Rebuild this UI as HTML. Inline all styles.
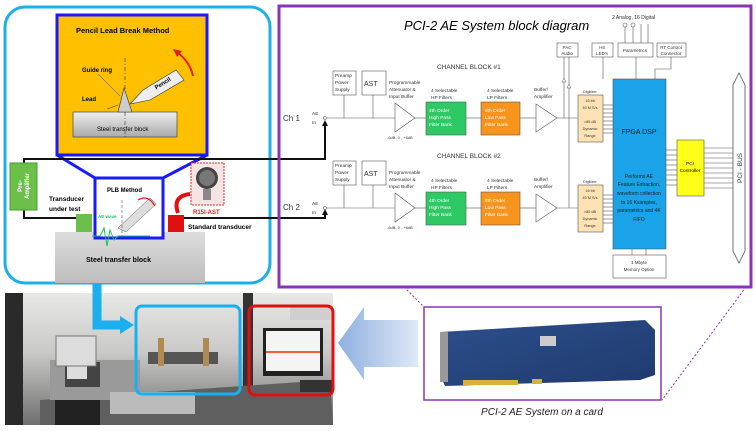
<!DOCTYPE html>
<html><head><meta charset="utf-8"><style>
html,body{margin:0;padding:0;background:#fff;width:756px;height:431px;overflow:hidden}
svg{display:block;font-family:"Liberation Sans",Arial,sans-serif}
</style></head><body>
<svg width="756" height="431" viewBox="0 0 756 431" xmlns="http://www.w3.org/2000/svg">
<defs>
<linearGradient id="steel" x1="0" y1="0" x2="0" y2="1"><stop offset="0" stop-color="#eee"/><stop offset="1" stop-color="#aaa"/></linearGradient>
<linearGradient id="steel2" x1="0" y1="0" x2="0" y2="1"><stop offset="0" stop-color="#ddd"/><stop offset="1" stop-color="#bdbdbd"/></linearGradient>
<linearGradient id="bigArrow" x1="1" y1="0" x2="0" y2="0"><stop offset="0" stop-color="#dfe9f7"/><stop offset="1" stop-color="#8fb0e0"/></linearGradient>
<linearGradient id="photo" x1="0" y1="0" x2="0" y2="1"><stop offset="0" stop-color="#e8e8e6"/><stop offset="0.45" stop-color="#c9c9c7"/><stop offset="1" stop-color="#6f6f6f"/></linearGradient>
<linearGradient id="pcb" x1="0" y1="0" x2="1" y2="1"><stop offset="0" stop-color="#2d4f8c"/><stop offset="1" stop-color="#1f3a6e"/></linearGradient>
</defs>

<!-- Left panel -->
<rect x="5" y="7" width="265" height="276" rx="20" fill="#fff" stroke="#1cb0e8" stroke-width="3"/>
<rect x="57" y="15" width="150" height="140" fill="#ffc000" stroke="#1a1aff" stroke-width="3"/>
<text x="76" y="33" font-size="7.5" font-weight="bold">Pencil Lead Break Method</text>
<rect x="73" y="112" width="104" height="25" fill="url(#steel)" stroke="#555" stroke-width="0.8"/>
<text x="97" y="131" font-size="6">Steel transfer block</text>
<line x1="125" y1="58" x2="125" y2="138" stroke="#333" stroke-width="0.6" stroke-dasharray="4,2,1,2"/>
<polygon points="118,112 124,88 132,112" fill="#ccc" stroke="#333" stroke-width="0.6"/>
<polygon points="130,104 143,90 176,70 184,80 150,100" fill="#eee" stroke="#333" stroke-width="0.6"/>
<text x="154" y="88" font-size="6" font-weight="bold" transform="rotate(-32 158 85)">Pencil</text>
<path d="M177 52 Q190 62 193 76" fill="none" stroke="#e02020" stroke-width="2"/>
<polygon points="173,49 182,51 177,57" fill="#e02020"/>
<text x="82" y="72" font-size="6" font-weight="bold">Guide ring</text>
<line x1="98" y1="74" x2="120" y2="96" stroke="#333" stroke-width="0.5"/>
<text x="82" y="101" font-size="6" font-weight="bold">Lead</text>
<line x1="107" y1="109" x2="118" y2="105" stroke="#333" stroke-width="0.5"/>
<polyline points="57,155 95,178 163,178 207,155" fill="none" stroke="#1a1aff" stroke-width="3"/>
<rect x="55" y="232" width="150" height="51" fill="url(#steel2)"/>
<text x="86" y="262" font-size="7" font-weight="bold">Steel transfer block</text>
<rect x="95" y="178" width="68" height="60" fill="#fff" stroke="#1a1aff" stroke-width="3"/>
<text x="107" y="192" font-size="6" font-weight="bold">PLB Method</text>
<polygon points="118,228 150,198 156,204 126,232" fill="#ddd" stroke="#555" stroke-width="0.5"/>
<path d="M138 200 Q148 194 155 206" fill="none" stroke="#e02020" stroke-width="1.2"/>
<line x1="122" y1="200" x2="122" y2="240" stroke="#333" stroke-width="0.5" stroke-dasharray="3,2"/>
<polyline points="92,236 100,236 104,228 107,246 110,230 114,240 118,236 150,236" fill="none" stroke="#19c060" stroke-width="1"/>
<text x="98" y="218" font-size="4.5" fill="#19c060" font-weight="bold">AE wave</text>
<!-- wires -->
<polyline points="24,163 24,159 325,159 325,125" fill="none" stroke="#111" stroke-width="2"/>
<polygon points="322,126 325,120 328,126" fill="#111"/>
<polyline points="24,210 24,218 76,218" fill="none" stroke="#111" stroke-width="2"/>
<polyline points="183,218 325,218 325,214" fill="none" stroke="#111" stroke-width="2"/>
<polygon points="322,215 325,209 328,215" fill="#111"/>
<rect x="10" y="163" width="27" height="47" fill="#6cc04a" stroke="#4a9a30"/>
<text x="24" y="186" font-size="6" font-weight="bold" fill="#fff" text-anchor="middle" transform="rotate(-90 24 186)"><tspan x="24" dy="-2">Pre-</tspan><tspan x="24" dy="7">Amplifier</tspan></text>
<rect x="76" y="214" width="16" height="18" fill="#6cc04a"/>
<text x="49" y="201" font-size="6.5" font-weight="bold">Transducer</text>
<text x="49" y="211" font-size="6.5" font-weight="bold">under test</text>
<rect x="168" y="215" width="16" height="17" fill="#e01010"/>
<text x="188" y="229" font-size="6.5" font-weight="bold">Standard transducer</text>
<rect x="191" y="163" width="33" height="42" fill="#f4e4e4" stroke="#e03030" stroke-dasharray="2,1"/>
<circle cx="207" cy="178" r="11" fill="#444"/><circle cx="207" cy="178" r="8" fill="#777"/>
<rect x="203" y="189" width="8" height="11" fill="#888"/>
<text x="193" y="214" font-size="6" font-weight="bold" fill="#e02020">R15I-AST</text>
<path d="M190 194 Q172 196 178 213" fill="none" stroke="#e01010" stroke-width="4"/>

<!-- Right panel -->
<rect x="279" y="6" width="472" height="281" fill="none" stroke="#8a34b8" stroke-width="3"/>
<text x="404" y="30" font-size="13" font-style="italic">PCI-2 AE System block diagram</text>
<g font-size="5" fill="#333">
<text x="612" y="19">2 Analog, 16 Digital</text>
<text x="437" y="69" font-size="6.5">CHANNEL BLOCK #1</text>
<text x="437" y="158" font-size="6.5">CHANNEL BLOCK #2</text>
<text x="283" y="121" font-size="8">Ch 1</text>
<text x="283" y="210" font-size="8">Ch 2</text>
</g>
<g fill="none" stroke="#555" stroke-width="0.6">
<circle cx="625" cy="25" r="2"/><circle cx="633" cy="25" r="2"/>
<line x1="625" y1="27" x2="625" y2="43"/><line x1="633" y1="27" x2="633" y2="43"/>
<line x1="641" y1="24" x2="641" y2="43"/><line x1="648" y1="24" x2="648" y2="43"/>
<rect x="557" y="43" width="21" height="14"/>
<rect x="592" y="43" width="21" height="14"/>
<rect x="618" y="43" width="35" height="14"/>
<rect x="657" y="43" width="29" height="14"/>
<line x1="603" y1="57" x2="603" y2="79"/><line x1="636" y1="57" x2="636" y2="79"/><polyline points="671,57 671,69 655,69 655,79"/>
<line x1="564" y1="57" x2="564" y2="118"/>
<line x1="569" y1="57" x2="569" y2="208"/>
<rect x="613" y="255" width="53" height="23"/>
<line x1="632" y1="249" x2="632" y2="255"/><line x1="646" y1="249" x2="646" y2="255"/>
<polygon points="739,73 745,85 745,251 739,263 733,251 733,85" stroke-width="0.8"/>
</g>
<g font-size="4.5" fill="#333" text-anchor="middle">
<text x="567" y="49">PAC</text><text x="567" y="55">Audio</text>
<text x="602" y="49">Hit</text><text x="602" y="55">LED's</text>
<text x="635" y="52">Parametrics</text>
<text x="671" y="49">RT Control</text><text x="671" y="55">Connector</text>
<text x="639" y="264">1 Mbyte</text><text x="639" y="271">Memory Option</text>
</g>
<text x="742" y="168" font-size="6.5" fill="#333" text-anchor="middle" transform="rotate(-90 742 168)">PCI - BUS</text>

<g id="ch">
<g fill="none" stroke="#555" stroke-width="0.6">
<circle cx="325" cy="118" r="1.5"/>
<line x1="327" y1="118" x2="395" y2="118"/>
<rect x="333" y="71" width="23" height="24"/><rect x="362" y="71" width="24" height="24"/>
<line x1="344" y1="95" x2="344" y2="118"/><line x1="373" y1="95" x2="373" y2="118"/>
<polygon points="395,103 415,118 395,132"/>
<line x1="415" y1="118" x2="426" y2="118"/>
<line x1="466" y1="118" x2="481" y2="118"/>
<line x1="520" y1="118" x2="536" y2="118"/>
<polygon points="536,104 557,118 536,132"/>
<line x1="557" y1="118" x2="578" y2="118"/>
<line x1="603" y1="105" x2="613" y2="105"/><line x1="603" y1="109" x2="613" y2="109"/><line x1="603" y1="113" x2="613" y2="113"/><line x1="603" y1="117" x2="613" y2="117"/><line x1="603" y1="121" x2="613" y2="121"/><line x1="603" y1="125" x2="613" y2="125"/><line x1="603" y1="129" x2="613" y2="129"/><line x1="603" y1="133" x2="613" y2="133"/>
</g>
<rect x="426" y="102" width="40" height="33" fill="#2ec964" stroke="#555" stroke-width="0.6"/>
<rect x="481" y="102" width="39" height="33" fill="#f7941d" stroke="#555" stroke-width="0.6"/>
<rect x="578" y="95" width="25" height="47" fill="#fde3b3" stroke="#555" stroke-width="0.6"/>
<g font-size="4.8" fill="#333">
<text x="312" y="115">AE</text><text x="312" y="124">In</text>
<text x="335" y="77">Preamp</text><text x="335" y="84">Power</text><text x="335" y="91">Supply</text>
<text x="364" y="86" font-size="7">AST</text>
<text x="389" y="84">Programmable</text><text x="389" y="91">Attenuator &amp;</text><text x="389" y="98">Input Buffer</text>
<text x="431" y="92">4 Selectable</text><text x="431" y="99">HP Filters</text>
<text x="487" y="92">4 Selectable</text><text x="487" y="99">LP Filters</text>
<text x="534" y="91">Buffer/</text><text x="534" y="98">Amplifier</text>
<text x="387" y="139" font-size="4">-6dB, 0 , +6dB</text>
<text x="429" y="112" fill="#fff">4th Order</text><text x="429" y="119" fill="#fff">High Pass</text><text x="429" y="126" fill="#fff">Filter Bank</text>
<text x="485" y="112" fill="#fff">8th Order</text><text x="485" y="119" fill="#fff">Low Pass</text><text x="485" y="126" fill="#fff">Filter Bank</text>
<text x="583" y="93" font-size="3.8">Digitizer</text>
<g font-size="3.8" text-anchor="middle"><text x="590" y="102">16 bit</text><text x="590" y="109">40 M S/s</text><text x="590" y="123">&gt;85 dB</text><text x="590" y="130">Dynamic</text><text x="590" y="137">Range</text></g>
</g>
</g>
<use href="#ch" transform="translate(0,90)"/>
<polygon points="562,82 564,78 566,82" fill="#fff" stroke="#555" stroke-width="0.5"/>
<polygon points="567,88 569,84 571,88" fill="#fff" stroke="#555" stroke-width="0.5"/>

<rect x="613" y="79" width="53" height="170" fill="#1aa3e8" stroke="#555" stroke-width="0.6"/>
<text x="639" y="134" font-size="7" text-anchor="middle" fill="#222">FPGA DSP</text>
<g font-size="5" fill="#222" text-anchor="middle">
<text x="639" y="178">Performs AE</text><text x="639" y="186">Feature Extraction,</text><text x="639" y="195">waveform collection</text><text x="639" y="204">to 16 Ksamples,</text><text x="639" y="212">parametrics and 4K</text><text x="639" y="221">FIFO</text>
</g>
<g stroke="#555" stroke-width="0.6">
<line x1="666" y1="150" x2="677" y2="150"/><line x1="666" y1="155" x2="677" y2="155"/><line x1="666" y1="160" x2="677" y2="160"/><line x1="666" y1="165" x2="677" y2="165"/><line x1="666" y1="170" x2="677" y2="170"/><line x1="666" y1="175" x2="677" y2="175"/><line x1="666" y1="180" x2="677" y2="180"/><line x1="666" y1="185" x2="677" y2="185"/>
<line x1="704" y1="148" x2="733" y2="148"/><line x1="704" y1="153" x2="733" y2="153"/><line x1="704" y1="158" x2="733" y2="158"/><line x1="704" y1="163" x2="733" y2="163"/><line x1="704" y1="168" x2="733" y2="168"/><line x1="704" y1="173" x2="733" y2="173"/><line x1="704" y1="178" x2="733" y2="178"/><line x1="704" y1="183" x2="733" y2="183"/><line x1="704" y1="188" x2="733" y2="188"/>
</g>
<rect x="677" y="140" width="27" height="56" fill="#ffff1a" stroke="#555" stroke-width="0.6"/>
<text x="690" y="165" font-size="4.8" text-anchor="middle">PCI</text><text x="690" y="172" font-size="4.8" text-anchor="middle">Controller</text>

<!-- Bottom photo -->
<rect x="5" y="293" width="328" height="132" fill="url(#photo)"/>
<rect x="5" y="293" width="18" height="132" fill="#2a2a2a"/>
<rect x="243" y="293" width="10" height="132" fill="#333"/>
<polygon points="40,400 330,380 333,425 40,425" fill="#5f5f5f"/>
<rect x="50" y="360" width="90" height="40" fill="#9a9a9a"/>
<rect x="55" y="400" width="45" height="25" fill="#222"/>
<rect x="65" y="362" width="35" height="25" fill="#444"/><rect x="67" y="365" width="20" height="14" fill="#ddd"/>
<rect x="56" y="336" width="40" height="30" fill="#dcdcdc" stroke="#777"/>
<rect x="110" y="392" width="85" height="22" fill="#bbb"/>
<rect x="148" y="352" width="70" height="12" fill="#555"/>
<rect x="158" y="338" width="6" height="28" fill="#b08a50"/><rect x="203" y="338" width="6" height="28" fill="#b08a50"/>
<rect x="263" y="328" width="60" height="48" fill="#222"/><rect x="266" y="331" width="54" height="40" fill="#f4f4f4"/>
<line x1="266" y1="352" x2="320" y2="352" stroke="#f06030" stroke-width="2"/>
<rect x="290" y="306" width="43" height="14" fill="#cfcfcf"/>
<rect x="300" y="380" width="33" height="12" fill="#333"/>
<path d="M97 283 L97 325 L120 325" fill="none" stroke="#1ab0ee" stroke-width="9"/>
<polygon points="120,316 134,325 120,334" fill="#1ab0ee"/>
<rect x="136" y="306" width="104" height="88" rx="6" fill="none" stroke="#1ab0ee" stroke-width="3"/>
<rect x="249" y="306" width="84" height="89" rx="6" fill="none" stroke="#e01010" stroke-width="3"/>
<polygon points="418,320 364,320 364,307 338,343 364,380 364,367 418,367" fill="url(#bigArrow)"/>

<!-- card -->
<line x1="404" y1="287" x2="424" y2="307" stroke="#8a34b8" stroke-dasharray="2,2"/>
<line x1="424" y1="307" x2="470" y2="400" stroke="#8a34b8" stroke-dasharray="2,2"/>
<line x1="746" y1="287" x2="662" y2="400" stroke="#8a34b8" stroke-dasharray="2,2"/>
<rect x="424" y="307" width="237" height="93" fill="#fff" stroke="#8a34b8" stroke-width="1.5"/>
<polygon points="440,332 645,320 655,330 655,375 640,380 445,386 440,375" fill="url(#pcb)"/>
<rect x="440" y="332" width="8" height="50" fill="#999"/>
<rect x="463" y="380" width="55" height="5" fill="#d8b040"/>
<rect x="532" y="379" width="10" height="5" fill="#d8b040"/>
<rect x="540" y="336" width="16" height="10" fill="#ccc"/>
<text x="542" y="415" font-size="10" font-style="italic" text-anchor="middle" fill="#222">PCI-2 AE System on a card</text>
</svg>
</body></html>
